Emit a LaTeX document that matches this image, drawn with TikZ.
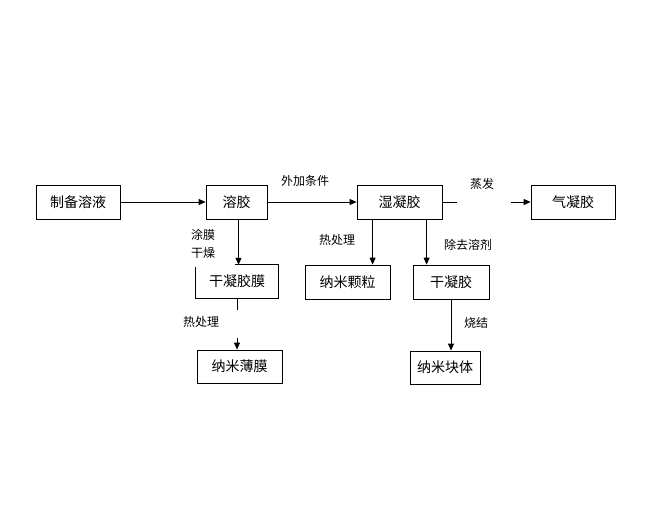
\documentclass[tikz,border=0pt]{standalone}
\usepackage{fontspec}
\setmainfont{Noto Sans CJK SC}
\usetikzlibrary{arrows.meta,calc}
\begin{document}
\begin{tikzpicture}[x=1pt,y=-1pt,
  box/.style={draw, line width=0.8pt, inner sep=0pt, font=\fontsize{14}{16}\selectfont},
  nobox/.style={inner sep=0pt, font=\fontsize{14}{16}\selectfont},
  lbl/.style={inner sep=0pt, font=\fontsize{12}{14}\selectfont},
  conn/.style={line width=0.8pt},
  arr/.style={line width=0.8pt, -{Triangle[length=7pt,width=6pt]}}]
\useasboundingbox (0,0) rectangle (672,520);
% boxes
\node[box, minimum width=84pt, minimum height=34pt] (zb) at (78,202) {制备溶液};
\node[box, minimum width=61pt, minimum height=34pt] (rj) at (236.5,202) {溶胶};
\node[box, minimum width=85pt, minimum height=34pt] (sh) at (399.5,202) {湿凝胶};
\node[box, minimum width=84pt, minimum height=34pt] (qn) at (573,202) {气凝胶};
\node[nobox, minimum width=82pt, minimum height=33pt] (gm) at (237,281.5) {干凝胶膜};
\node[box, minimum width=85pt, minimum height=33pt] (nb) at (239.5,366.5) {纳米薄膜};
\node[box, minimum width=85pt, minimum height=34pt] (np) at (347.5,282) {纳米颗粒};
\node[box, minimum width=76pt, minimum height=34pt] (gn) at (451,282) {干凝胶};
\node[box, minimum width=70pt, minimum height=33pt] (nk) at (445,367.5) {纳米块体};
% partial outline of 干凝胶膜
\draw[line width=0.8pt] ([yshift=-2pt]gm.north west) -- (gm.south west) -- (gm.south east) -- (gm.north east) -- ([xshift=-2pt]gm.north);
% labels
\node[lbl] (l1) at (305,181) {外加条件};
\node[lbl] (l2) at (482,184) {蒸发};
\node[lbl] (l3) at (203,235) {涂膜};
\node[lbl] (l4) at (203,253) {干燥};
\node[lbl] (l5) at (201,322) {热处理};
\node[lbl] (l6) at (337,240) {热处理};
\node[lbl] (l7) at (468,245) {除去溶剂};
\node[lbl] (l8) at (476,323) {烧结};
% connectors
\draw[arr] (zb.east) -- (rj.west);
\draw[arr] (rj.east) -- (sh.west);
\draw[conn] (sh.east) -- ++(15,0);
\coordinate (qa) at (511,202);
\draw[arr] (qa) -- (qn.west);
\draw[arr] ([xshift=2pt]rj.south) -- ([xshift=2pt]rj.south |- gm.north);
\draw[conn] (gm.south) -- ++(0,12);
\coordinate (nba) at ($(gm.south)+(0,40)$);
\draw[arr] (nba) -- (nba |- nb.north);
\draw[arr] ([xshift=16pt]sh.south west) -- ([xshift=16pt]sh.south west |- np.north);
\draw[arr] ([xshift=70pt]sh.south west) -- ([xshift=70pt]sh.south west |- gn.north);
\draw[arr] (gn.south) -- (gn.south |- nk.north);
\end{tikzpicture}
\end{document}
